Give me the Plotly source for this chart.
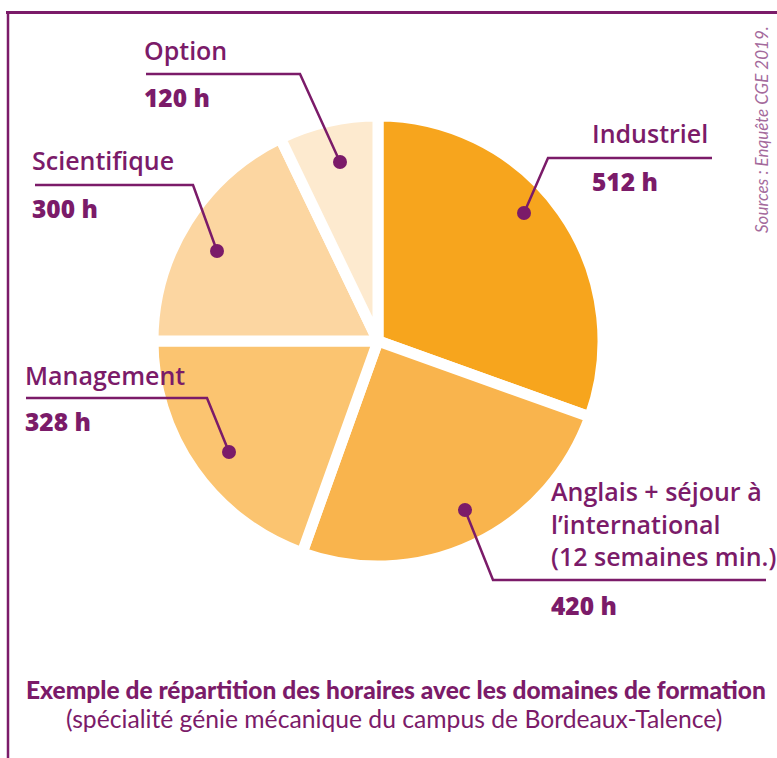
import plotly.graph_objects as go

W, H = 777, 758

# ---- data ----
categories = ["Industriel", "Anglais + séjour à<br>l’international<br>(12 semaines min.)",
              "Management", "Scientifique", "Option"]
hours = [512, 420, 328, 300, 120]
value_labels = ["512 h", "420 h", "328 h", "300 h", "120 h"]
title_text = "Exemple de répartition des horaires avec les domaines de formation"
subtitle_text = "(spécialité génie mécanique du campus de Bordeaux-Talence)"
source_text = "Sources : Enquête CGE 2019."

# ---- style ----
slice_colors = ["#F7A51D", "#F9B44D", "#FBC470", "#FCD6A1", "#FDEACF"]
PURPLE = "#7B1B69"
FONT = "Open Sans"

def X(px):
    return px / W

def Y(py):
    return 1 - py / H

# pie geometry (pixels)
cx, cy, R = 378, 341, 225

fig = go.Figure()
fig.add_trace(go.Pie(
    labels=categories, values=hours, sort=False, direction="clockwise", rotation=0,
    marker=dict(colors=slice_colors, line=dict(color="white", width=11)),
    textinfo="none", hoverinfo="label+value", showlegend=False,
    domain=dict(x=[X(cx - R), X(cx + R)], y=[Y(cy + R), Y(cy - R)]),
))

# label layout: name position, value position, leader path (pixels)
label_layout = [
    dict(nx=590, ny=133, vx=590, vy=182, path=[(712, 158), (548, 158), (524, 213)]),
    dict(nx=549, ny=523, vx=549, vy=605, path=[(766, 580), (493, 580), (465, 510)]),
    dict(nx=23, ny=375, vx=23, vy=421, path=[(26, 398), (207, 398), (229, 452)]),
    dict(nx=30, ny=160, vx=30, vy=208, path=[(35, 185), (193, 185), (217, 251)]),
    dict(nx=142, ny=50, vx=142, vy=98, path=[(146, 74), (300, 74), (340, 162)]),
]

shapes = []
annotations = []
for cat, val, lay in zip(categories, value_labels, label_layout):
    pts = lay["path"]
    d = "M " + " L ".join(f"{X(px)},{Y(py)}" for px, py in pts)
    shapes.append(dict(type="path", path=d, xref="paper", yref="paper",
                       line=dict(color=PURPLE, width=2.5), layer="above"))
    dx, dy = pts[-1]
    r = 7
    shapes.append(dict(type="circle", xref="paper", yref="paper",
                       x0=X(dx - r), x1=X(dx + r), y0=Y(dy + r), y1=Y(dy - r),
                       fillcolor=PURPLE, line=dict(width=0), layer="above"))
    annotations.append(dict(text=cat, x=X(lay["nx"]), y=Y(lay["ny"]), xref="paper", yref="paper",
                            xanchor="left", yanchor="middle", showarrow=False, align="left",
                            font=dict(family=FONT, size=25, color=PURPLE, weight=600)))
    annotations.append(dict(text=val, x=X(lay["vx"]), y=Y(lay["vy"]), xref="paper", yref="paper",
                            xanchor="left", yanchor="middle", showarrow=False,
                            font=dict(family=FONT, size=24.5, color=PURPLE, weight=800)))

# title / subtitle / source
annotations.append(dict(text=title_text, x=X(396), y=Y(689), xref="paper", yref="paper",
                        xanchor="center", yanchor="middle", showarrow=False,
                        font=dict(family="Lato", size=24.5, color=PURPLE, weight=900)))
annotations.append(dict(text=subtitle_text, x=X(394), y=Y(718), xref="paper", yref="paper",
                        xanchor="center", yanchor="middle", showarrow=False,
                        font=dict(family="Lato", size=24.7, color=PURPLE)))
annotations.append(dict(text=source_text, x=X(762), y=Y(130), xref="paper", yref="paper",
                        xanchor="center", yanchor="middle", showarrow=False, textangle=-90,
                        font=dict(family="Lato", size=17, color="#A46A9C", style="italic")))

# frame lines
shapes.append(dict(type="line", xref="paper", yref="paper", x0=X(6), x1=X(777), y0=Y(12.5), y1=Y(12.5),
                   line=dict(color=PURPLE, width=3)))
shapes.append(dict(type="line", xref="paper", yref="paper", x0=X(8), x1=X(8), y0=Y(11), y1=Y(758),
                   line=dict(color=PURPLE, width=2.5)))

fig.update_layout(width=W, height=H, margin=dict(l=0, r=0, t=0, b=0),
                  paper_bgcolor="white", plot_bgcolor="white",
                  shapes=shapes, annotations=annotations)

fig.write_html("out.html", config={"displayModeBar": False},
               post_script="document.body.style.margin='0px';")
